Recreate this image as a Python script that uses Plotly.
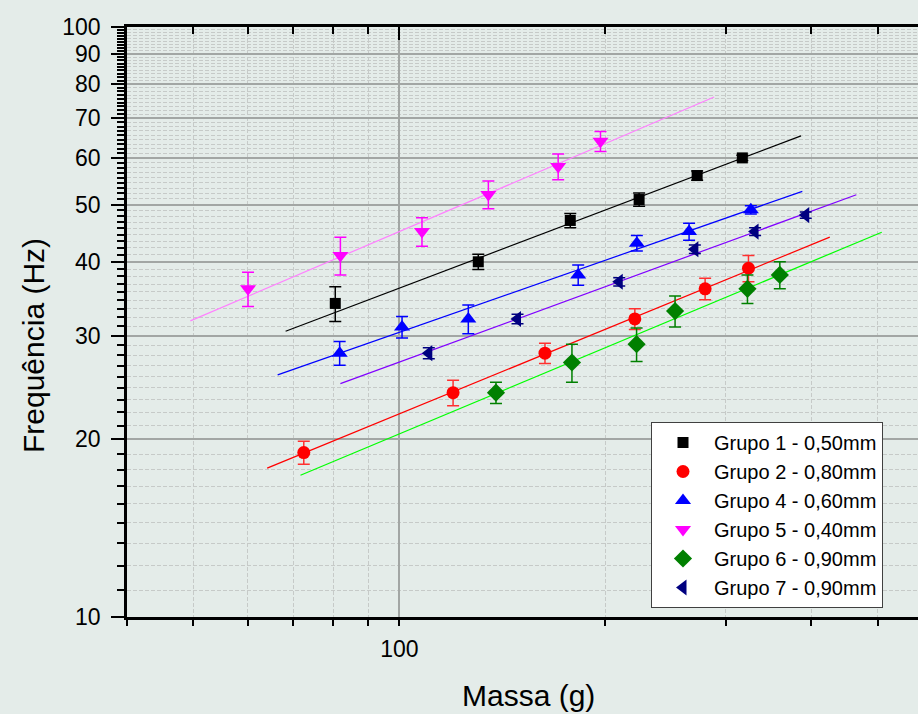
import numpy as np
import plotly.graph_objects as go

# Measured mass (g), frequency (Hz) and uncertainty per group
massa_g1 = [80.6, 130.4, 177.7, 224.0, 272.3, 317.0]
freq_g1 = [34, 40, 47, 51, 56, 60]
err_g1 = [2.3, 1.2, 1.3, 1.3, 1.0, 0.6]

massa_g2 = [72.5, 119.8, 163.2, 220.8, 279.7, 323.6]
freq_g2 = [19, 24, 28, 32, 36, 39]
err_g2 = [0.85, 1.2, 1.1, 1.3, 1.5, 2.0]

massa_g4 = [81.8, 100.9, 126.1, 182.5, 222.3, 265.0, 326.2]
freq_g4 = [28, 31, 32, 38, 43, 45, 49]
err_g4 = [1.3, 1.3, 1.8, 1.5, 1.3, 1.5, 0.8]

massa_g5 = [60.1, 82.0, 107.9, 134.9, 170.6, 196.7]
freq_g5 = [36, 41, 45, 52, 58, 64]
err_g5 = [2.4, 3.0, 2.5, 2.8, 2.9, 2.5]

massa_g6 = [138.4, 178.7, 222.1, 252.8, 322.5, 359.6]
freq_g6 = [24, 27, 29, 33, 36, 38]
err_g6 = [1.0, 2.0, 1.9, 2.0, 2.0, 2.0]

massa_g7 = [110.4, 148.8, 209.5, 270.2, 330.9, 392.4]
freq_g7 = [28, 32, 37, 42, 45, 48]
err_g7 = [0.6, 0.6, 0.6, 0.7, 0.7, 0.6]

# Mass interval over which each power-law fit is drawn
fit_range_g1 = [68.2, 386.2]
fit_range_g2 = [64.1, 425.4]
fit_range_g4 = [66.4, 387.9]
fit_range_g5 = [49.5, 288.3]
fit_range_g6 = [71.7, 506.7]
fit_range_g7 = [82.0, 465.2]

group_names = ["Grupo 1 - 0,50mm", "Grupo 2 - 0,80mm", "Grupo 4 - 0,60mm",
               "Grupo 5 - 0,40mm", "Grupo 6 - 0,90mm", "Grupo 7 - 0,90mm"]

# Axis ticks
y_major_ticks = [10, 20, 30, 40, 50, 60, 70, 80, 90, 100]
y_minor_ticks = [a + k * 10 / 9 for a in y_major_ticks[:-1] for k in range(1, 9)]
x_major_ticks = [100]
x_minor_ticks = [40, 50, 60, 70, 80, 90, 200, 300, 400, 500]

BG = "#E4ECE9"
FONT = "Liberation Sans, Arial, sans-serif"

groups = [
    (massa_g1, freq_g1, err_g1, fit_range_g1, "#000000", "square", 11, "#000000", "#000000"),
    (massa_g2, freq_g2, err_g2, fit_range_g2, "#FF0000", "circle", 13, "#FF0000", "#FF3030"),
    (massa_g4, freq_g4, err_g4, fit_range_g4, "#0000FF", "triangle-up", 14, "#0000FF", "#0000FF"),
    (massa_g5, freq_g5, err_g5, fit_range_g5, "#FF00FF", "triangle-down", 14, "#FF80FF", "#FF00FF"),
    (massa_g6, freq_g6, err_g6, fit_range_g6, "#008000", "diamond", 14, "#00FF00", "#008000"),
    (massa_g7, freq_g7, err_g7, fit_range_g7, "#000080", "triangle-left", 14, "#8000FF", "#000080"),
]

fig = go.Figure()

# Power-law fits (weighted straight lines in log-log space)
for m, f, e, rng, mcol, sym, size, lcol, ecol in groups:
    m, f, e = np.asarray(m, float), np.asarray(f, float), np.asarray(e, float)
    slope, intercept = np.polyfit(np.log10(m), np.log10(f), 1, w=f / e)
    xs = np.logspace(np.log10(rng[0]), np.log10(rng[1]), 60)
    ys = 10 ** (intercept + slope * np.log10(xs))
    fig.add_trace(go.Scatter(x=xs, y=ys, mode="lines", line=dict(color=lcol, width=1.2),
                             showlegend=False, hoverinfo="skip"))

# Measurements with error bars
for (m, f, e, rng, mcol, sym, size, lcol, ecol), name in zip(groups, group_names):
    fig.add_trace(go.Scatter(
        x=m, y=f, mode="markers", name=name,
        marker=dict(symbol=sym, size=size, color=mcol, line=dict(width=0)),
        error_y=dict(type="data", array=e, visible=True, color=ecol, thickness=1.5, width=6),
    ))

# Empty trace carrying the top axis
fig.add_trace(go.Scatter(x=[], y=[], xaxis="x2", yaxis="y", showlegend=False, hoverinfo="skip"))

x_range = [np.log10(40), 2.7577]

fig.update_layout(
    width=918, height=714,
    margin=dict(l=127, r=0, t=27, b=97),
    paper_bgcolor=BG, plot_bgcolor=BG,
    font=dict(family=FONT, color="#000000"),
    xaxis=dict(
        type="log", range=x_range,
        tickvals=x_major_ticks, ticktext=[str(v) for v in x_major_ticks],
        ticks="outside", ticklen=6, tickwidth=2, tickcolor="#000000",
        tickfont=dict(size=23), ticklabelstandoff=4,
        showline=True, linewidth=2.5, linecolor="#000000",
        showgrid=True, gridcolor="#A2A6A4", gridwidth=1.5,
        zeroline=False,
        minor=dict(tickvals=x_minor_ticks, ticks="outside", ticklen=6, tickwidth=2,
                   tickcolor="#000000", showgrid=True, gridcolor="#C6CAC8",
                   griddash="4px,2px", gridwidth=1),
    ),
    xaxis2=dict(
        type="log", range=x_range, overlaying="x", side="top", anchor="y",
        tickvals=x_major_ticks, ticktext=["" for _ in x_major_ticks],
        ticks="inside", ticklen=13, tickwidth=2, tickcolor="#000000",
        showline=True, linewidth=2.5, linecolor="#000000",
        showgrid=False, zeroline=False,
        minor=dict(tickvals=x_minor_ticks, ticks="inside", ticklen=7, tickwidth=2,
                   tickcolor="#000000", showgrid=False),
    ),
    yaxis=dict(
        type="log", range=[1, 2],
        tickvals=y_major_ticks, ticktext=[str(v) for v in y_major_ticks],
        ticks="outside", ticklen=13, tickwidth=2, tickcolor="#000000",
        tickfont=dict(size=23), ticklabelstandoff=6,
        showline=True, linewidth=2.5, linecolor="#000000",
        showgrid=True, gridcolor="#A2A6A4", gridwidth=1.5,
        zeroline=False,
        minor=dict(tickvals=y_minor_ticks, ticks="outside", ticklen=7, tickwidth=1.5,
                   tickcolor="#000000", showgrid=True, gridcolor="#C6CAC8",
                   griddash="4px,2px", gridwidth=1),
    ),
    legend=dict(
        x=(883 - 127) / 791, y=(617 - 422) / 590, xanchor="right", yanchor="top",
        bgcolor="#FFFFFF", bordercolor="#404040", borderwidth=1,
        font=dict(size=20, family=FONT), itemwidth=52, tracegroupgap=0,
    ),
    annotations=[
        dict(text="Frequência (Hz)", textangle=-90, showarrow=False,
             xref="paper", yref="paper", x=(33 - 127) / 791, y=(617 - 346) / 590,
             xanchor="center", yanchor="middle", font=dict(size=30, family=FONT)),
        dict(text="Massa (g)", showarrow=False,
             xref="paper", yref="paper", x=(528 - 127) / 791, y=(617 - 695) / 590,
             xanchor="center", yanchor="middle", font=dict(size=30, family=FONT)),
    ],
)

fig.write_html("out.html")
